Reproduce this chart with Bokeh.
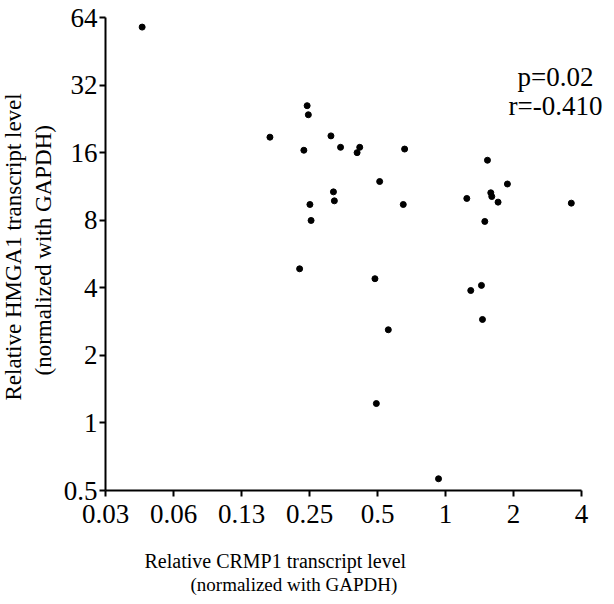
from bokeh.plotting import figure
from bokeh.models import FixedTicker, Label, Title
from bokeh.embed import file_html
from bokeh.resources import INLINE

# Relative CRMP1 (x) and HMGA1 (y) transcript levels, normalized with GAPDH
crmp1 = [0.0454, 0.167, 0.236, 0.244, 0.247, 0.251, 0.254, 0.226, 0.311, 0.343,
         0.406, 0.417, 0.659, 0.319, 0.322, 0.511, 0.650, 1.533, 1.879, 1.242,
         1.586, 1.602, 1.708, 1.492, 3.603, 0.487, 1.293, 1.442, 1.457, 0.558,
         0.494, 0.931]
hmga1 = [58.0, 18.75, 16.4, 25.9, 23.6, 9.40, 7.98, 4.86, 19.0, 16.9,
         16.0, 16.9, 16.6, 10.7, 9.76, 11.9, 9.40, 14.8, 11.6, 10.0,
         10.6, 10.2, 9.63, 7.90, 9.53, 4.39, 3.89, 4.10, 2.89, 2.60,
         1.22, 0.564]

x_ticks = [0.03125, 0.0625, 0.125, 0.25, 0.5, 1, 2, 4]
x_tick_labels = ["0.03", "0.06", "0.13", "0.25", "0.5", "1", "2", "4"]
y_ticks = [0.5, 1, 2, 4, 8, 16, 32, 64]
y_tick_labels = ["0.5", "1", "2", "4", "8", "16", "32", "64"]

x_title = ["Relative  CRMP1 transcript level", "(normalized with GAPDH)"]
y_title = ["Relative  HMGA1 transcript level", "(normalized  with  GAPDH)"]
stats_lines = ["p=0.02", "r=-0.410"]

FONT = "Liberation Serif"

W, H = 612, 604
FRAME_L, FRAME_T, FRAME_B = 104, 17, 490
AXIS_R, FRAME_R = 581, 610
# extend the x range past 4 so the statistics text is not clipped; the axis line stops at 4
x_end = x_ticks[-1] * 2 ** ((FRAME_R - AXIS_R) / ((AXIS_R - FRAME_L) / 7.0))

p = figure(width=W, height=H, x_axis_type="log", y_axis_type="log",
           x_range=(x_ticks[0], x_end), y_range=(y_ticks[0], y_ticks[-1]),
           output_backend="svg", toolbar_location=None,
           min_border_left=FRAME_L, min_border_right=W - FRAME_R,
           min_border_top=FRAME_T, min_border_bottom=H - FRAME_B)
p.outline_line_color = None
p.xgrid.visible = False
p.ygrid.visible = False

p.scatter(crmp1, hmga1, size=6, color="black")

p.xaxis.ticker = FixedTicker(ticks=x_ticks)
p.yaxis.ticker = FixedTicker(ticks=y_ticks)
p.xaxis.bounds = (x_ticks[0], x_ticks[-1])
p.xaxis.major_label_overrides = {t: l for t, l in zip(x_ticks, x_tick_labels)}
p.yaxis.major_label_overrides = {t: l for t, l in zip(y_ticks, y_tick_labels)}

for ax in (p.xaxis, p.yaxis):
    ax.axis_line_width = 2
    ax.axis_line_color = "black"
    ax.major_tick_line_width = 2
    ax.major_tick_line_color = "black"
    ax.major_tick_out = 6
    ax.major_tick_in = 0
    ax.minor_tick_line_color = None
    ax.major_label_text_font = FONT
    ax.major_label_text_font_size = "27px"
    ax.major_label_text_color = "black"

p.xaxis.major_label_standoff = 8
p.yaxis.major_label_standoff = 2
# tiny invisible axis label used only as a spacer between tick labels and title
p.xaxis.axis_label = " "
p.xaxis.axis_label_text_font_size = "1px"
p.xaxis.axis_label_standoff = 20

# x axis title (two lines, left of centre as in the reference)
p.add_layout(Title(text=x_title[0], align="left", offset=39, standoff=0,
                   vertical_align="top", text_font=FONT, text_font_size="20px",
                   text_font_style="normal", text_color="black"), "below")
p.add_layout(Title(text=x_title[1], align="left", offset=85, standoff=0,
                   vertical_align="top", text_font=FONT, text_font_size="19px",
                   text_font_style="normal", text_color="black"), "below")

# y axis title (two vertical lines)
p.add_layout(Title(text=y_title[1], align="left", offset=115, standoff=6,
                   vertical_align="top",
                   text_font=FONT, text_font_size="23px",
                   text_font_style="normal", text_color="black"), "left")
p.add_layout(Title(text=y_title[0], align="left", offset=90, standoff=0,
                   vertical_align="top",
                   text_font=FONT, text_font_size="23px",
                   text_font_style="normal", text_color="black"), "left")

p.add_layout(Label(x=3.07, y=34.6, text=stats_lines[0], text_font=FONT,
                   text_font_size="27px", text_align="center",
                   text_baseline="middle", text_color="black"))
p.add_layout(Label(x=3.07, y=25.9, text=stats_lines[1], text_font=FONT,
                   text_font_size="27px", text_align="center",
                   text_baseline="middle", text_color="black"))

open("out.html", "w").write(file_html(p, INLINE))
